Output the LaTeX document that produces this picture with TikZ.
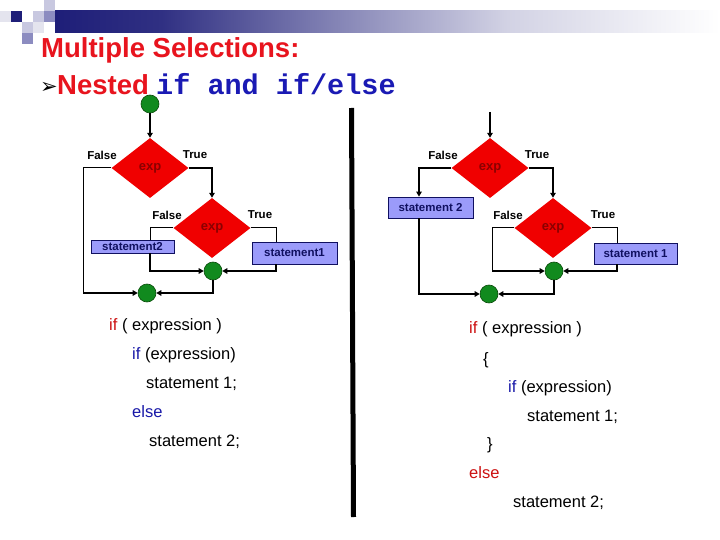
\documentclass[tikz,border=0pt]{standalone}
\usepackage{fontspec}
\setmainfont{Liberation Sans}
\newfontfamily\monof{Liberation Mono}
\newfontfamily\symf{DejaVu Sans}
\usetikzlibrary{shapes.geometric,arrows.meta}
\definecolor{navy}{HTML}{1E1E78}
\definecolor{sqmed}{HTML}{8C8CC0}
\definecolor{sqlight}{HTML}{C8C8E0}
\definecolor{sqvlight}{HTML}{E4E4EE}
\definecolor{titlered}{HTML}{E8141E}
\definecolor{codeblue}{HTML}{1A1AB4}
\definecolor{kwred}{HTML}{CC1010}
\definecolor{kwblue}{HTML}{1818A8}
\definecolor{decred}{HTML}{F00000}
\definecolor{exptext}{HTML}{8A0000}
\definecolor{boxfill}{HTML}{9B9BFA}
\definecolor{boxdraw}{HTML}{101060}
\definecolor{jgreen}{HTML}{118A1E}
\definecolor{jdraw}{HTML}{0A4A0A}
\pgfdeclarehorizontalshading{hbar}{100bp}{color(0bp)=(navy); color(25bp)=(navy); color(33bp)=(navy!92!white); color(46bp)=(navy!55!white); color(59bp)=(navy!20!white); color(75bp)=(white); color(100bp)=(white)}
\tikzset{
  dec/.style={diamond, fill=decred, minimum width=77pt, minimum height=60pt, inner sep=0pt,
    text=exptext, font=\bfseries\fontsize{13}{14}\selectfont},
  stbox/.style={rectangle, draw=boxdraw, line width=0.8pt, fill=boxfill, minimum width=83pt,
    inner sep=0pt, text=boxdraw, font=\bfseries\fontsize{11.5}{12}\selectfont},
  junc/.style={circle, fill=jgreen, draw=jdraw, line width=0.6pt, minimum size=18pt, inner sep=0pt},
  lbl/.style={inner sep=0pt, font=\bfseries\fontsize{11.5}{12}\selectfont},
  flow/.style={line width=1pt},
  arr/.style={line width=1.6pt, -{Triangle[length=5pt,width=5.5pt]}},
  code/.style={anchor=base west, inner sep=0pt, font=\fontsize{16.5}{18}\selectfont},
  sq/.style={draw=none, minimum size=11pt, inner sep=0pt, anchor=north west}
}
\begin{document}
\begin{tikzpicture}[x=1pt,y=-1pt]
\useasboundingbox[fill=white] (0,0) rectangle (720,540);
% header decoration
\shade[shading=hbar] (55,11) rectangle (720,33);
\node[sq, fill=sqlight] (q1) at (44,0) {};
\node[sq, fill=sqvlight] (q2) at (0,11) {};
\node[sq, fill=navy] (q3) at (11,11) {};
\node[sq, fill=sqlight] (q4) at (33,11) {};
\node[sq, fill=sqmed] (q5) at (44,11) {};
\node[sq, fill=sqlight] (q6) at (22,22) {};
\node[sq, fill=sqvlight] (q7) at (33,22) {};
\node[sq, fill=sqmed] (q8) at (22,33) {};
% title
\node[anchor=base west, inner sep=0pt, text=titlered, font=\bfseries\fontsize{27.5}{30}\selectfont] (title) at (41,58) {Multiple Selections:};
\node[anchor=base west, inner sep=0pt, font=\symf\fontsize{21}{22}\selectfont] (bul) at (40,94) {➢};
\node[anchor=base west, inner sep=0pt, text=titlered, font=\bfseries\fontsize{27.5}{30}\selectfont] (nested) at (57,95) {Nested};
\node[anchor=base west, inner sep=0pt, text=codeblue, font=\monof\bfseries\fontsize{28.5}{30}\selectfont] (kw) at (156,95) {if and if/else};
% separator
\draw[line width=5pt] (351.5,108) -- (353.5,517);
% ---------- left flowchart ----------
\node[junc] (j0) at (150,104) {};
\node[dec] (d1) at (150,168) {exp};
\node[dec] (d2) at (212,228) {exp};
\node[stbox, minimum height=13pt] (s2) at (132.5,246.5) {statement2};
\node[stbox, minimum width=85pt, minimum height=22pt] (s1) at (294.5,253) {statement1};
\node[junc] (j1) at (213,271) {};
\node[junc] (j2) at (147,293) {};
\coordinate (c1) at (83,293);
\node[lbl] (f1) at (102,155) {False};
\node[lbl] (t1) at (195,155) {True};
\node[lbl] (f2) at (167,215) {False};
\node[lbl] (t2) at (260,215) {True};
\draw[arr] (j0) -- (d1);
\draw[arr] (d1.east) -| (d2.north);
\draw[flow] (d1.west) -| (c1);
\draw[arr] (c1) -- (j2.west);
\draw[flow] (d2.west) -| ([xshift=17.5pt]s2.north);
\draw[arr] ([xshift=17.5pt]s2.south) |- (j1.west);
\draw[flow] (d2.east) -| ([xshift=-18.5pt]s1.north);
\draw[arr] ([xshift=-18.5pt]s1.south) |- (j1.east);
\draw[arr] (j1.south) |- (j2.east);
% ---------- right flowchart ----------
\coordinate (t0) at (490,112);
\node[dec] (d3) at (490,168) {exp};
\node[dec] (d4) at (553,228) {exp};
\node[stbox, minimum width=85pt, minimum height=21pt] (s3) at (430.5,207.5) {statement 2};
\node[stbox, minimum width=83pt, minimum height=21pt] (s4) at (635.5,253.5) {statement 1};
\node[junc] (j3) at (554,271) {};
\node[junc] (j4) at (489,294) {};
\coordinate (c3) at (492,271);
\node[lbl] (f3) at (443,155) {False};
\node[lbl] (t3) at (537,155) {True};
\node[lbl] (f4) at (508,215) {False};
\node[lbl] (t4) at (603,215) {True};
\draw[arr] (t0) -- (d3);
\draw[arr] (d3.west) -| ([xshift=-11.5pt]s3.north);
\draw[arr] ([xshift=-11.5pt]s3.south) |- (j4.west);
\draw[arr] (d3.east) -| (d4.north);
\draw[flow] (d4.west) -| (c3);
\draw[arr] (c3) -- (j3.west);
\draw[flow] (d4.east) -| ([xshift=-18.5pt]s4.north);
\draw[arr] ([xshift=-18.5pt]s4.south) |- (j3.east);
\draw[arr] (j3.south) |- (j4.east);
% ---------- code, left ----------
\node[code] (l1) at (109,330) {\textcolor{kwred}{if} ( expression )};
\node[code] (l2) at (132,359) {\textcolor{kwblue}{if} (expression)};
\node[code] (l3) at (146,388) {statement 1;};
\node[code, text=kwblue] (l4) at (132,417) {else};
\node[code] (l5) at (149,446) {statement 2;};
% ---------- code, right ----------
\node[code] (r1) at (469,333) {\textcolor{kwred}{if} ( expression )};
\node[code] (r2) at (483,364) {\{};
\node[code] (r3) at (508,392) {\textcolor{kwblue}{if} (expression)};
\node[code] (r4) at (527,421) {statement 1;};
\node[code] (r5) at (487,449) {\}};
\node[code, text=kwred] (r6) at (469,478) {else};
\node[code] (r7) at (513,507) {statement 2;};
\end{tikzpicture}
\end{document}
